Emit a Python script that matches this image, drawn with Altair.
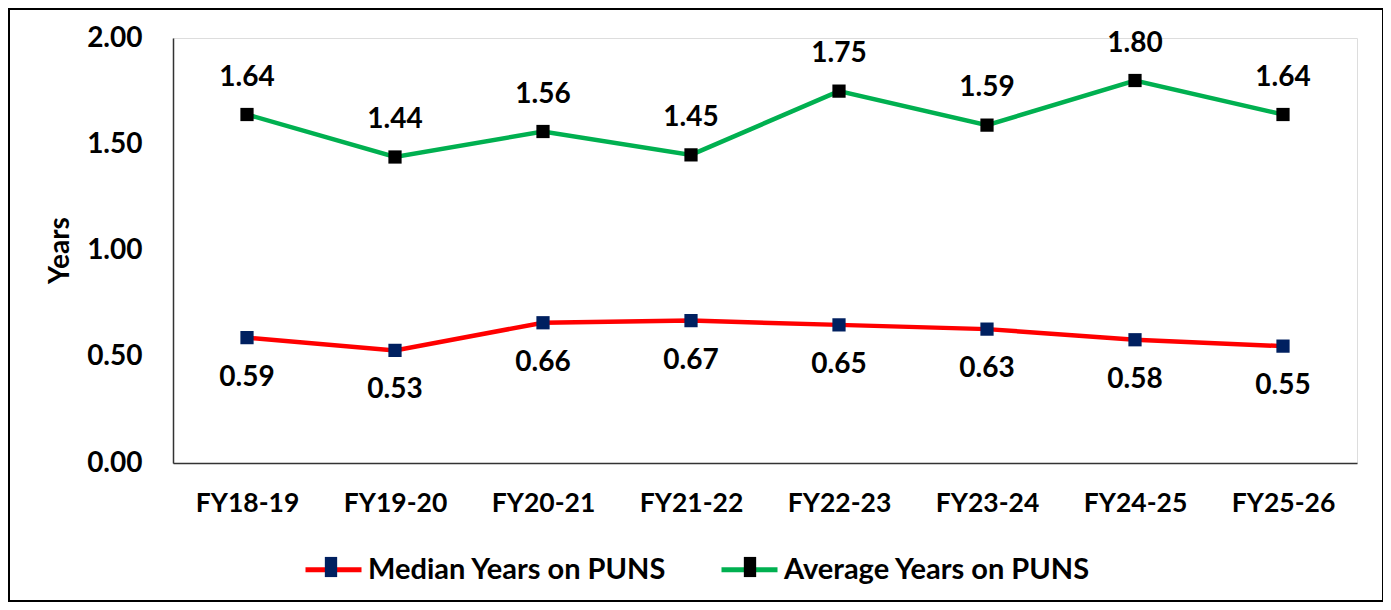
import altair as alt
import pandas as pd

cats = ["FY18-19", "FY19-20", "FY20-21", "FY21-22", "FY22-23", "FY23-24", "FY24-25", "FY25-26"]
median = [0.59, 0.53, 0.66, 0.67, 0.65, 0.63, 0.58, 0.55]
average = [1.64, 1.44, 1.56, 1.45, 1.75, 1.59, 1.80, 1.64]
series_names = ["Median Years on PUNS", "Average Years on PUNS"]
line_colors = ["#FF0000", "#00B050"]
marker_colors = ["#002060", "#000000"]
y_ticks = [0, 0.5, 1.0, 1.5, 2.0]

rows = []
for s, vals in zip(series_names, [median, average]):
    for c, v in zip(cats, vals):
        rows.append({"FY": c, "Series": s, "Years": v})
df = pd.DataFrame(rows)

FONT = "Lato"
W, H = 1184, 425

x = alt.X("FY:N", sort=cats, scale=alt.Scale(type="point", padding=0.5),
          axis=alt.Axis(title=None, labelFontSize=26.5, labelFontWeight="bold", labelColor="black",
                        labelFont=FONT, labelPadding=27, ticks=False, labelAngle=0,
                        domainColor="#333333", domainWidth=1.5))
y = alt.Y("Years:Q", scale=alt.Scale(domain=[0, 2]),
          axis=alt.Axis(values=y_ticks, format=".2f", grid=False, ticks=False,
                        labelFontSize=28, labelFontWeight="bold", labelColor="black", labelFont=FONT,
                        labelPadding=31, domainColor="#333333", domainWidth=1.5,
                        title="Years", titleX=-113, titleY=212, titleAngle=270,
                        titleAlign="center", titleBaseline="middle", titleFontSize=28,
                        titleFontWeight="bold", titleColor="black", titleFont=FONT))

legend_common = dict(title=None, orient="none", legendX=130, legendY=501, direction="horizontal",
                     symbolSize=3136, labelFontSize=29, labelFont=FONT, labelFontWeight="bold",
                     labelColor="black", labelOffset=4, labelLimit=0)

base = alt.Chart(df)

lines = base.mark_line(strokeWidth=4.5).encode(
    x=x, y=y,
    stroke=alt.Stroke("Series:N", scale=alt.Scale(domain=series_names, range=line_colors),
                      legend=alt.Legend(symbolType="stroke", symbolStrokeWidth=5, columnPadding=44,
                                        **legend_common)),
)

points = base.mark_point(shape="square", filled=True, size=175, opacity=1).encode(
    x=x, y=y,
    fill=alt.Fill("Series:N", scale=alt.Scale(domain=series_names, range=marker_colors),
                  legend=alt.Legend(symbolType="M-0.22,-0.36H0.22V0.36H-0.22Z", symbolStrokeWidth=0,
                                    labelExpr="''", columnPadding=359, **legend_common)),
)

text_avg = base.transform_filter(alt.datum.Series == series_names[1]).mark_text(
    dy=-37, fontSize=28, fontWeight="bold", font=FONT, color="black"
).encode(x=x, y=y, text=alt.Text("Years:Q", format=".2f"))

text_med = base.transform_filter(alt.datum.Series == series_names[0]).mark_text(
    dy=40, fontSize=28, fontWeight="bold", font=FONT, color="black"
).encode(x=x, y=y, text=alt.Text("Years:Q", format=".2f"))

frame = alt.Chart(alt.Data(values=[{}])).mark_rect(fillOpacity=0, stroke="black", strokeWidth=2).encode(
    x=alt.value(-164), x2=alt.value(W + 26), y=alt.value(-29), y2=alt.value(H + 138)
)

chart = alt.layer(lines, points, text_avg, text_med, frame).resolve_scale(
    stroke="independent", fill="independent"
).properties(
    width=W, height=H,
    autosize=alt.AutoSizeParams(type="none"),
    padding={"left": 165, "top": 30, "right": 26, "bottom": 140},
).configure_view(stroke=None).configure(font=FONT)

chart.save("out.html", embed_options={"renderer": "svg", "actions": False})
